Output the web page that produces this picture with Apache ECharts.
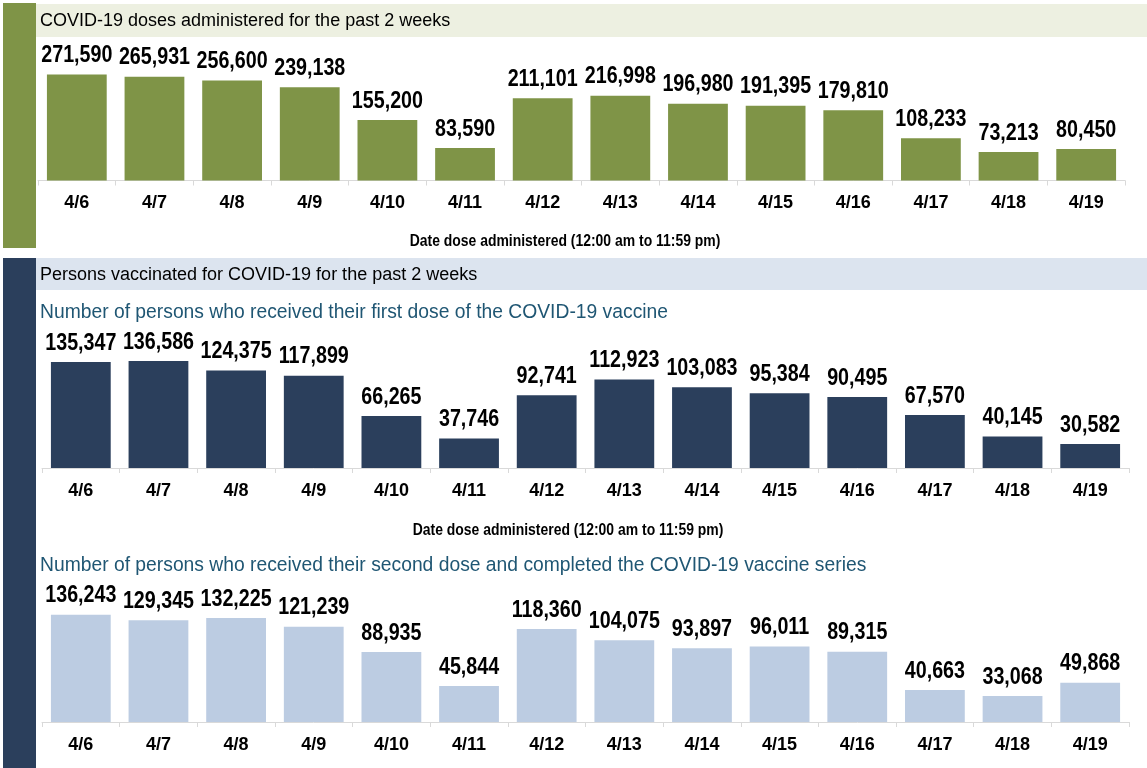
<!DOCTYPE html>
<html><head><meta charset="utf-8">
<script src="https://cdn.jsdelivr.net/npm/echarts@6/dist/echarts.min.js"></script>
<style>html,body{margin:0;padding:0;background:#fff}#c{width:1147px;height:768px}</style>
</head><body><div id="c"></div>
<script>
const categories = ['4/6','4/7','4/8','4/9','4/10','4/11','4/12','4/13','4/14','4/15','4/16','4/17','4/18','4/19'];
const dosesAdministered = [271590,265931,256600,239138,155200,83590,211101,216998,196980,191395,179810,108233,73213,80450];
const firstDose = [135347,136586,124375,117899,66265,37746,92741,112923,103083,95384,90495,67570,40145,30582];
const secondDose = [136243,129345,132225,121239,88935,45844,118360,104075,93897,96011,89315,40663,33068,49868];

const title1 = 'COVID-19 doses administered for the past 2 weeks';
const title2 = 'Persons vaccinated for COVID-19 for the past 2 weeks';
const sub1 = 'Number of persons who received their first dose of the COVID-19 vaccine';
const sub2 = 'Number of persons who received their second dose and completed the COVID-19 vaccine series';
const axisName = 'Date dose administered (12:00 am to 11:59 pm)';

const REG = "'Liberation Sans','Arial',sans-serif";
const fmt = v => v.toLocaleString('en-US');

const chart = echarts.init(document.getElementById('c'), null, {renderer:'canvas'});

function xAx(gi){
  return {
    type:'category', gridIndex:gi, data:categories,
    axisLine:{lineStyle:{color:'#D9D9D9', width:1}},
    axisTick:{show:true, length:5, lineStyle:{color:'#D9D9D9'}},
    axisLabel:{color:'#000', fontFamily:REG, fontWeight:'bold', fontSize:18, margin:14}
  };
}
function yAx(gi, max){
  return {type:'value', gridIndex:gi, min:0, max:max, show:false, splitLine:{show:false}};
}
function bar(gi, data, color){
  return {
    type:'bar', xAxisIndex:gi, yAxisIndex:gi, data:data, barWidth:'77%',
    itemStyle:{color:color}, silent:true
  };
}
function labels(gi, data){
  return {
    type:'custom', xAxisIndex:gi, yAxisIndex:gi, silent:true,
    data:data.map((v,i)=>[i,v]),
    renderItem:(params, api)=>{
      const p = api.coord([api.value(0), api.value(1)]);
      return {
        type:'text', x:p[0], y:p[1]-7, scaleX:0.82, scaleY:1,
        style:{text:fmt(api.value(1)), font:'bold 24px '+REG, fill:'#000',
          textAlign:'center', textVerticalAlign:'bottom', align:'center', verticalAlign:'bottom'}
      };
    }
  };
}
function axisTitle(x, y){
  return {type:'text', x:x, y:y, scaleX:0.82, scaleY:1,
    style:{text:axisName, font:'bold 17px '+REG, fill:'#000',
      textAlign:'center', textVerticalAlign:'middle', align:'center', verticalAlign:'middle'}};
}

chart.setOption({
  animation:false,
  graphic:[
    {type:'rect', shape:{x:3,y:3,width:33,height:245}, style:{fill:'#7F9447'}},
    {type:'rect', shape:{x:36,y:4,width:1111,height:33}, style:{fill:'#EDF0E1'}},
    {type:'text', left:40, top:12, style:{text:title1, fill:'#000', font:'18px '+REG}},
    {type:'rect', shape:{x:3,y:258,width:33,height:510}, style:{fill:'#2B3F5C'}},
    {type:'rect', shape:{x:36,y:258,width:1111,height:32}, style:{fill:'#DCE4EF'}},
    {type:'text', left:40, top:266, style:{text:title2, fill:'#000', font:'18px '+REG}},
    {type:'text', left:40, top:303, style:{text:sub1, fill:'#1F5673', font:'19.3px '+REG}},
    {type:'text', left:40, top:556, style:{text:sub2, fill:'#1F5673', font:'19.3px '+REG}},
    axisTitle(565, 241),
    axisTitle(568, 530)
  ],
  grid:[
    {left:38, width:1087, top:63.5, height:117},
    {left:42, width:1087, top:350.5, height:117.5},
    {left:42, width:1087, top:604, height:118}
  ],
  xAxis:[xAx(0), xAx(1), xAx(2)],
  yAxis:[yAx(0,300000), yAx(1,150000), yAx(2,150000)],
  series:[
    bar(0,dosesAdministered,'#7F9447'), bar(1,firstDose,'#2B3F5C'), bar(2,secondDose,'#BCCCE2'),
    labels(0,dosesAdministered), labels(1,firstDose), labels(2,secondDose)
  ]
});
</script></body></html>
